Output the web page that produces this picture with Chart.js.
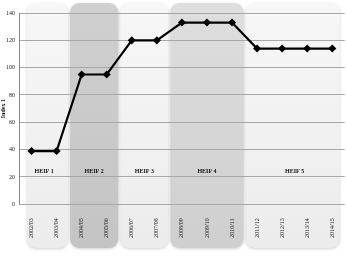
<!DOCTYPE html>
<html lang="en">
<head>
    <meta charset="UTF-8">
    <title>HEIF index</title>
    <script src="https://cdn.jsdelivr.net/npm/chart.js"></script>
    <style>
        html, body { margin: 0; padding: 0; background: #fff; overflow: hidden; }
        canvas { display: block; }
    </style>
</head>
<body>
    <!-- canvas a few px wider than the window: chart.js keeps ~6px free on the right -->
    <canvas id="chart" width="351" height="257"></canvas>
    <script>
        // data
        const categories = ['2002/03', '2003/04', '2004/05', '2005/06', '2006/07', '2007/08', '2008/09',
                            '2009/10', '2010/11', '2011/12', '2012/13', '2013/14', '2014/15'];
        const indexValues = [39, 39, 95, 95, 120, 120, 133, 133, 133, 114, 114, 114, 114];
        const groupLabels = ['HEIF 1', 'HEIF 2', 'HEIF 3', 'HEIF 4', 'HEIF 5'];
        const groupFirst = [0, 2, 4, 6, 9];
        const groupLast = [1, 3, 5, 8, 12];
        const bandColors = [['#f7f7f7', '#ececec'], ['#d0d0d0', '#c4c4c4'], ['#f7f7f7', '#ececec'],
                            ['#dedede', '#cfcfcf'], ['#f7f7f7', '#ececec']];
        const yMax = 140;
        const yStep = 20;
        const groupLabelValue = 24;

        // background bands for the HEIF periods
        const bandPlugin = {
            id: 'bands',
            beforeDraw(chart) {
                const ctx = chart.ctx;
                const x = chart.scales.x;
                const y = chart.scales.y;
                const half = (x.getPixelForValue(1) - x.getPixelForValue(0)) / 2;
                const top = 3, bottom = 248;
                groupLabels.forEach((lab, i) => {
                    let x0 = x.getPixelForValue(groupFirst[i]) - half + 1;
                    let x1 = x.getPixelForValue(groupLast[i]) + half - 1;
                    if (i === 0) x0 += 7;
                    if (i === groupLabels.length - 1) x1 -= 4;
                    const g = ctx.createLinearGradient(0, top, 0, bottom);
                    g.addColorStop(0, bandColors[i][0]);
                    g.addColorStop(1, bandColors[i][1]);
                    ctx.save();
                    ctx.shadowColor = 'rgba(0,0,0,0.18)';
                    ctx.shadowBlur = 3;
                    ctx.shadowOffsetY = 1;
                    ctx.fillStyle = g;
                    ctx.beginPath();
                    ctx.roundRect(x0, top, x1 - x0, bottom - top, 9);
                    ctx.fill();
                    ctx.restore();
                });
                ctx.save();
                ctx.fillStyle = '#111';
                ctx.font = 'bold 6px "Liberation Serif"';
                ctx.textAlign = 'center';
                ctx.textBaseline = 'middle';
                groupLabels.forEach((lab, i) => {
                    const cx = (x.getPixelForValue(groupFirst[i]) + x.getPixelForValue(groupLast[i])) / 2;
                    ctx.fillText(lab, cx, y.getPixelForValue(groupLabelValue));
                });
                ctx.restore();
            }
        };

        new Chart(document.getElementById('chart'), {
            type: 'line',
            data: {
                labels: categories,
                datasets: [{
                    data: indexValues,
                    borderColor: '#000',
                    backgroundColor: '#000',
                    borderWidth: 2.2,
                    pointStyle: 'rectRot',
                    pointRadius: 2.5,
                    tension: 0
                }]
            },
            options: {
                responsive: false,
                animation: false,
                layout: { padding: { top: 13, right: 0, bottom: 13, left: 0 } },
                plugins: { legend: { display: false }, tooltip: { enabled: false } },
                scales: {
                    x: {
                        offset: true,
                        afterFit(scale) { scale.paddingLeft = 0; scale.paddingRight = 0; },
                        grid: { display: false },
                        border: { display: false },
                        ticks: {
                            minRotation: 90, maxRotation: 90, padding: 6,
                            color: '#222',
                            font: { size: 6, family: 'Liberation Serif' }
                        }
                    },
                    y: {
                        min: 0, max: yMax,
                        afterFit(scale) { scale.width = 19; },
                        ticks: { stepSize: yStep, padding: 4, color: '#222',
                                 font: { size: 6, family: 'Liberation Serif' } },
                        grid: { color: '#a8a8a8', lineWidth: 1, drawTicks: false },
                        border: { display: true, color: '#888' },
                        title: { display: true, text: 'Index 1', color: '#111', padding: 0,
                                 font: { size: 6, weight: 'bold', family: 'Liberation Serif' } }
                    }
                }
            },
            plugins: [bandPlugin]
        });
    </script>
</body>
</html>
